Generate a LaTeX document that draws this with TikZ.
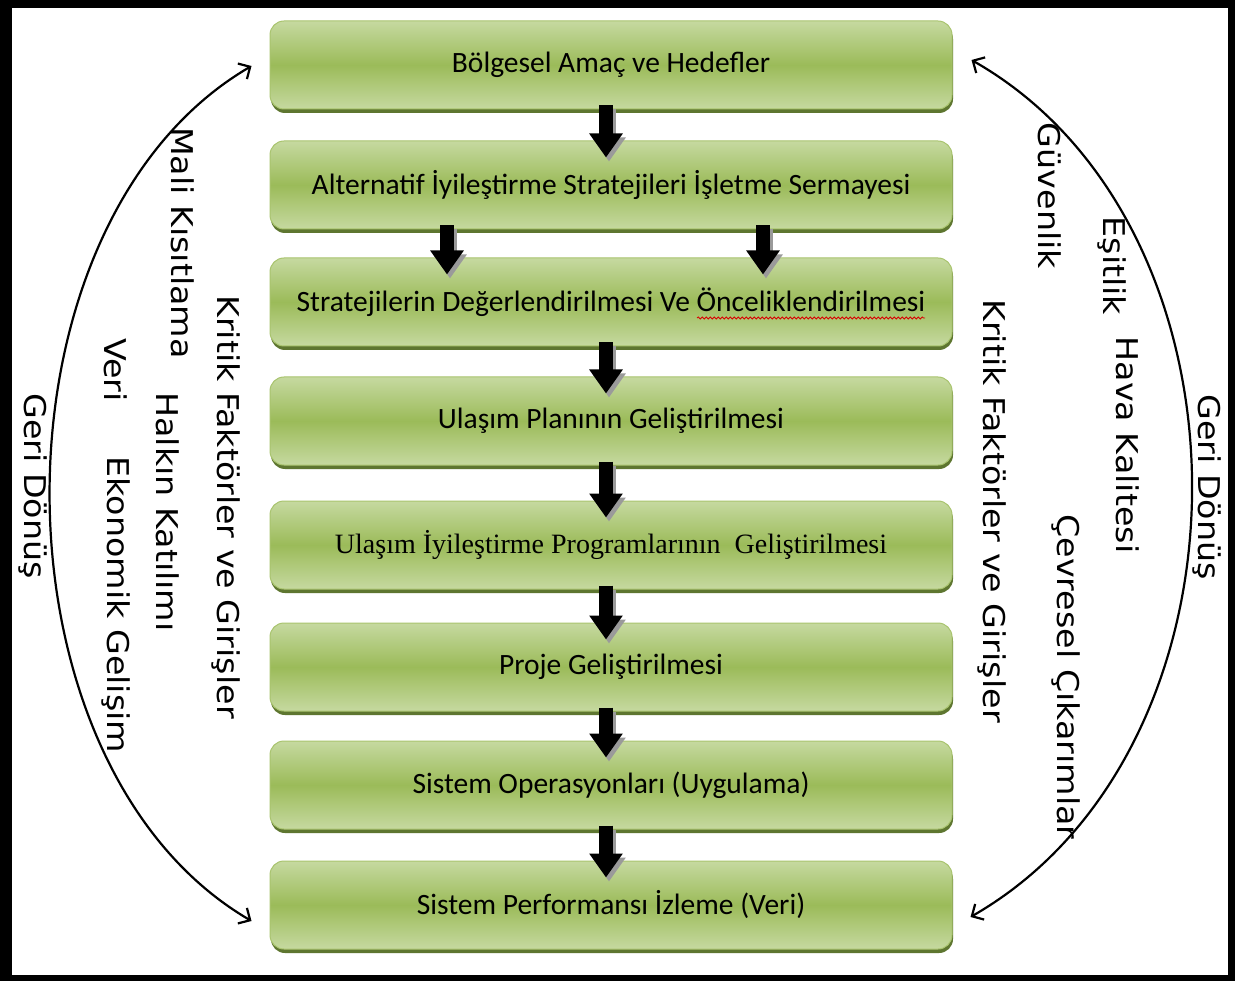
\documentclass[tikz,border=0pt]{standalone}
\usepackage{fontspec}
\setmainfont{Carlito}
\newfontfamily\sidefont{DejaVu Sans}
\newfontfamily\serifbox{Liberation Serif}
\usetikzlibrary{arrows.meta,shadows,decorations.pathmorphing,calc}

\definecolor{boxlight}{HTML}{C6D9A0}
\definecolor{boxmid}{HTML}{9BBB59}
\definecolor{boxedge}{HTML}{A9C46E}
\definecolor{boxshade}{HTML}{5E7630}
\definecolor{arrowshade}{HTML}{9A9A9A}

\begin{document}
\begin{tikzpicture}[x=1pt,y=-1pt,
  stagebox/.style={rounded corners=14pt, minimum width=682pt, minimum height=88pt,
    inner sep=0pt, top color=boxlight, bottom color=boxlight, middle color=boxmid,
    draw=boxedge, line width=1pt,
    general shadow={fill=boxshade, shadow yshift=-4pt, shadow xshift=1pt},
    font=\fontsize{29.5}{33}\selectfont, text=black},
  flowarrow/.style={line width=14pt, -{Triangle[length=24pt,width=32pt]}, black},
  flowshadow/.style={line width=14pt, -{Triangle[length=24pt,width=32pt]}, arrowshade},
  loopback/.style={line width=2.2pt, black, {Straight Barb[length=9pt,width=18pt]}-{Straight Barb[length=9pt,width=18pt]}},
  sidelabel/.style={rotate=-90, xscale=1.11, inner sep=0pt, font=\sidefont\fontsize{30}{34}\selectfont}
]
\useasboundingbox (0,0) rectangle (1242,981);

% outer frame
\fill[black] (0,0) rectangle (1235,981);
\fill[white] (12,8) rectangle (1228,975);

% planning stages
\node[stagebox] (b1) at (611,65)  {Bölgesel Amaç ve Hedefler};
\node[stagebox] (b2) at (611,185) {Alternatif İyileştirme Stratejileri İşletme Sermayesi};
\node[stagebox] (b3) at (611,302) {Stratejilerin Değerlendirilmesi Ve Önceliklendirilmesi};
\node[stagebox] (b4) at (611,421) {Ulaşım Planının Geliştirilmesi};
\node[stagebox, font=\serifbox\fontsize{28}{32}\selectfont] (b5) at (611,545) {Ulaşım İyileştirme Programlarının\ \ Geliştirilmesi};
\node[stagebox] (b6) at (611,667) {Proje Geliştirilmesi};
\node[stagebox] (b7) at (611,785) {Sistem Operasyonları (Uygulama)};
\node[stagebox] (b8) at (611,905) {Sistem Performansı İzleme (Veri)};

% spell-check underline
\draw[red!85!black, line width=0.8pt, decorate,
  decoration={snake, amplitude=1pt, segment length=4pt}] (697,318) -- (925,318);

% block arrows between stages (shadow first)
\foreach \a/\b/\dx in {b1/b2/-5, b2/b3/-164, b2/b3/152, b3/b4/-5, b4/b5/-5, b5/b6/-5, b6/b7/-5, b7/b8/-5}{
  \draw[flowshadow] ([xshift=\dx pt+3pt, yshift=0pt]\a.south) -- ([xshift=\dx pt+3pt, yshift=-21pt]\b.north);
  \draw[flowarrow] ([xshift=\dx pt, yshift=4pt]\a.south) -- ([xshift=\dx pt, yshift=-17pt]\b.north);
}

% feedback loops
\coordinate (lt) at ([xshift=-18pt, yshift=-1pt]b1.west);
\coordinate (lb) at ([xshift=-18pt, yshift=-16pt]b8.west);
\coordinate (rt) at ([xshift=19pt, yshift=5pt]b1.east);
\coordinate (rb) at ([xshift=18pt, yshift=-12pt]b8.east);
\draw[loopback] (lt) .. controls (-17,223) and (-17,764) .. (lb);
\draw[loopback] (rt) .. controls (1265,227) and (1265,748) .. (rb);

% side labels, left
\node[sidelabel] (geriL) at (33,486)  {Geri Dönüş};
\node[sidelabel] (veri)  at (116,370) {Veri};
\node[sidelabel] (mali)  at (183,243) {Mali Kısıtlama};
\node[sidelabel] (halk)  at (168,512) {Halkın Katılımı};
\node[sidelabel] (ekon)  at (116,605) {Ekonomik Gelişim};
\node[sidelabel] (kritL) at (226,507) {Kritik Faktörler ve Girişler};

% side labels, right
\node[sidelabel] (guv)   at (1050,196) {Güvenlik};
\node[sidelabel] (esit)  at (1112,266) {Eşitlik};
\node[sidelabel] (hava)  at (1128,445) {Hava Kalitesi};
\node[sidelabel] (kritR) at (992,511)  {Kritik Faktörler ve Girişler};
\node[sidelabel] (cevre) at (1066,677) {Çevresel Çıkarımlar};
\node[sidelabel] (geriR) at (1207,487) {Geri Dönüş};
\end{tikzpicture}
\end{document}
